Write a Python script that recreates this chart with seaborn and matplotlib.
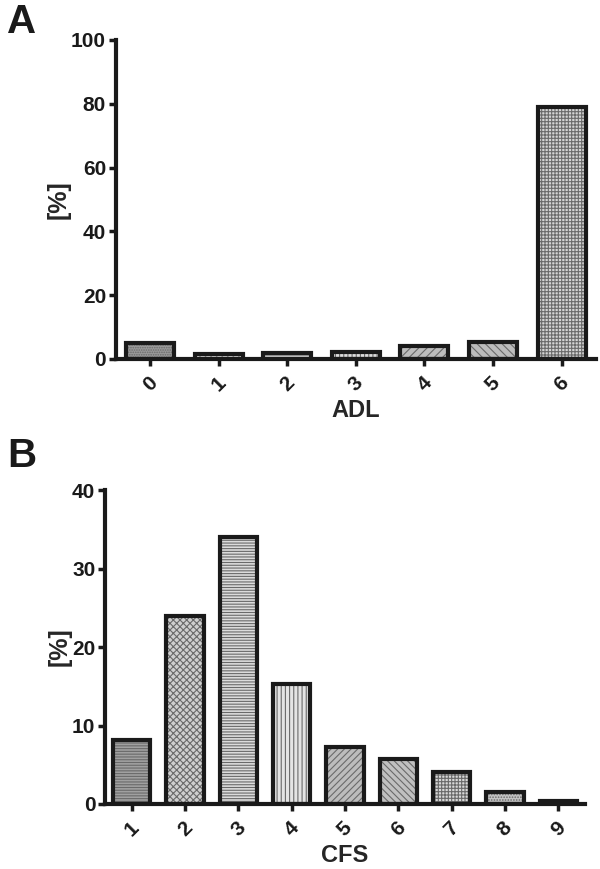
import pandas as pd
import matplotlib.pyplot as plt
import seaborn as sns

# Werte
adl_kat = ['0', '1', '2', '3', '4', '5', '6']
adl_proz = [4.9, 1.4, 2.0, 2.2, 3.9, 5.3, 79.0]
adl_hatch = ['.......', '...', '-----', '||||', '////', '\\\\\\\\', '+++++']
adl_farbe = ['#9a9a9a', '#e0e0e0', '#d8d8d8', '#dcdcdc', '#bdbdbd', '#bcbcbc', '#d4d4d4']

cfs_kat = ['1', '2', '3', '4', '5', '6', '7', '8', '9']
cfs_proz = [8.2, 24.0, 34.0, 15.3, 7.3, 5.7, 4.1, 1.5, 0.4]
cfs_hatch = ['------', 'xxxxx', '------', '||||', '/////', '\\\\\\\\\\', '+++++', '......', '']
cfs_farbe = ['#a0a0a0', '#cfcfcf', '#dcdcdc', '#e4e4e4', '#bcbcbc', '#c0c0c0', '#d8d8d8', '#c4c4c4', '#303030']

sns.set_style('ticks')
plt.rcParams['font.family'] = ['Liberation Sans', 'DejaVu Sans']
plt.rcParams['font.weight'] = 'bold'
plt.rcParams['hatch.linewidth'] = 0.8

fig = plt.figure(figsize=(6, 8.69), dpi=100)
ax_a = fig.add_axes([0.193, 0.587, 0.80, 0.367])
ax_b = fig.add_axes([0.175, 0.0748, 0.80, 0.3613])


def panel(ax, kat, werte, hatches, farben, ylim, yticks, xlabel):
    df = pd.DataFrame({'kat': kat, 'wert': werte})
    # Füllung mit Schraffur (graue Linien)
    sns.barplot(data=df, x='kat', y='wert', order=kat, width=0.7, ax=ax,
                color='white', edgecolor='#6a6a6a', linewidth=0)
    for p, h, f in zip(ax.patches, hatches, farben):
        p.set_facecolor(f)
        p.set_hatch(h)
    # schwarzer Rahmen darüber
    sns.barplot(data=df, x='kat', y='wert', order=kat, width=0.7, ax=ax,
                fill=False, edgecolor='#1a1a1a', linewidth=3)
    ax.set_ylim(*ylim)
    ax.set_yticks(yticks)
    ax.set_xlim(-0.5, len(kat) - 0.5)
    ax.set_xlabel(xlabel, fontsize=17, fontweight='bold', labelpad=3)
    ax.set_ylabel('[%]', fontsize=18, fontweight='bold', labelpad=0)
    sns.despine(ax=ax)
    for s in ['left', 'bottom']:
        ax.spines[s].set_linewidth(3)
        ax.spines[s].set_color('#1a1a1a')
    ax.tick_params(axis='both', width=2.5, length=5, labelsize=15, color='#1a1a1a',
                   labelcolor='#1a1a1a', pad=2)
    ax.tick_params(axis='x', labelrotation=45, pad=5)
    for t in ax.get_xticklabels() + ax.get_yticklabels():
        t.set_fontweight('bold')
    ax.patch.set_alpha(0)


panel(ax_a, adl_kat, adl_proz, adl_hatch, adl_farbe, (0, 100), [0, 20, 40, 60, 80, 100], 'ADL')
panel(ax_b, cfs_kat, cfs_proz, cfs_hatch, cfs_farbe, (0, 40), [0, 10, 20, 30, 40], 'CFS')

fig.text(0.012, 0.996, 'A', fontsize=29, fontweight='bold', va='top', color='#1a1a1a')
fig.text(0.012, 0.497, 'B', fontsize=29, fontweight='bold', va='top', color='#1a1a1a')

plt.savefig('out.png', dpi=100)
